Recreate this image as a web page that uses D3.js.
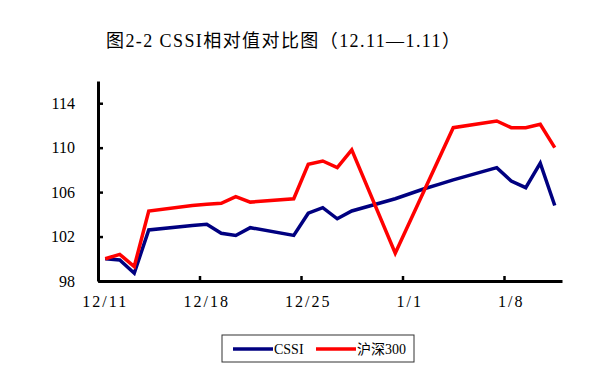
<!DOCTYPE html>
<html>
<head>
<meta charset="utf-8">
<script src="https://cdn.jsdelivr.net/npm/d3@7"></script>
<style>
  body { margin: 0; background: #fff; }
  text { font-family: "Liberation Serif", "Noto Sans CJK SC", serif; fill: #000; }
</style>
</head>
<body>
<script>
// trading days, 2018-12-11 .. 2019-01-11
var dates = ["2018-12-11", "2018-12-12", "2018-12-13", "2018-12-14", "2018-12-17",
  "2018-12-18", "2018-12-19", "2018-12-20", "2018-12-21", "2018-12-24",
  "2018-12-25", "2018-12-26", "2018-12-27", "2018-12-28", "2018-12-31",
  "2019-01-02", "2019-01-03", "2019-01-04", "2019-01-07", "2019-01-08",
  "2019-01-09", "2019-01-10", "2019-01-11"];
var cssi = [100.0, 99.9, 98.7, 102.6, 103.0, 103.1, 102.3, 102.1, 102.8, 102.1,
  104.1, 104.6, 103.6, 104.3, 105.4, 106.3, 106.7, 107.1, 108.2, 107.0,
  106.4, 108.6, 104.8];
var hs300 = [100.0, 100.4, 99.3, 104.3, 104.8, 104.9, 105.0, 105.6, 105.1, 105.4,
  108.5, 108.8, 108.2, 109.8, 100.5, null, null, 111.8, 112.4, 111.8,
  111.8, 112.1, 110.0];
var seriesNames = ["CSSI", "沪深300"];
var colors = ["#000080", "#ff0000"];
var yTicks = [98, 102, 106, 110, 114];
var xTickDates = ["2018-12-11", "2018-12-18", "2018-12-25", "2019-01-01", "2019-01-08"];
var xTickLabels = ["12/11", "12/18", "12/25", "1/1", "1/8"];

var width = 602, height = 368;
var mLeft = 98, mRight = 562, mTop = 81, mBottom = 281;

var parse = d3.timeParse("%Y-%m-%d");

var x = d3.scaleTime()
  .domain([parse("2018-12-11"), parse("2019-01-12")])
  .range([mLeft, mRight]);
var y = d3.scaleLinear()
  .domain([98, 116])
  .range([mBottom, mTop]);

var svg = d3.select("body").append("svg")
  .attr("width", width)
  .attr("height", height);

svg.append("text")
  .attr("x", 106)
  .attr("y", 47)
  .attr("textLength", 354)
  .attr("lengthAdjust", "spacing")
  .style("font-size", "18px")
  .text("图2-2 CSSI相对值对比图（12.11—1.11）");

// lines (points sit at the middle of each day)
var series = [cssi, hs300].map(function(vals, i) {
  return {
    name: seriesNames[i],
    color: colors[i],
    values: dates.map(function(d, j) { return { date: parse(d), v: vals[j] }; })
      .filter(function(p) { return p.v !== null; })
  };
});

var line = d3.line()
  .x(function(d) { return x(d3.timeHour.offset(d.date, 12)); })
  .y(function(d) { return y(d.v); });

// y axis, ticks pointing inside
var yAxis = svg.append("g")
  .attr("transform", "translate(" + mLeft + ",0)")
  .call(d3.axisLeft(y).tickValues(yTicks).tickSize(-5).tickSizeOuter(0).tickPadding(23));
yAxis.selectAll("text").style("font-size", "16px");

// x axis: tick marks at start of each week
var xAxis = svg.append("g")
  .attr("transform", "translate(0," + mBottom + ")")
  .call(d3.axisBottom(x)
    .tickValues(xTickDates.map(parse))
    .tickSize(-5).tickSizeOuter(0)
    .tickFormat(""));

svg.selectAll(".domain").attr("stroke", "#000").attr("stroke-width", 3);
svg.selectAll(".tick line").attr("stroke", "#000").attr("stroke-width", 2.5);

// x labels centred on their day
svg.selectAll(".xlabel")
  .data(xTickDates)
  .enter().append("text")
  .attr("class", "xlabel")
  .attr("x", function(d) { return x(d3.timeHour.offset(parse(d), 12)); })
  .attr("y", 307)
  .attr("text-anchor", "middle")
  .style("font-size", "16px")
  .style("letter-spacing", "2px")
  .text(function(d, i) { return xTickLabels[i]; });

svg.selectAll(".series")
  .data(series)
  .enter().append("path")
  .attr("class", "series")
  .attr("d", function(d) { return line(d.values); })
  .attr("fill", "none")
  .attr("stroke", function(d) { return d.color; })
  .attr("stroke-width", 3.5)
  .attr("stroke-linejoin", "miter");

// legend
var legend = svg.append("g");
legend.append("rect")
  .attr("x", 222).attr("y", 335)
  .attr("width", 192).attr("height", 27)
  .attr("fill", "#fff")
  .attr("stroke", "#333")
  .attr("stroke-width", 1);

var lx = [233, 316];
series.forEach(function(s, i) {
  legend.append("line")
    .attr("x1", lx[i]).attr("x2", lx[i] + 40)
    .attr("y1", 349).attr("y2", 349)
    .attr("stroke", s.color)
    .attr("stroke-width", 3.5);
  legend.append("text")
    .attr("x", lx[i] + 41)
    .attr("y", 354)
    .style("font-size", "14px")
    .text(s.name);
});
</script>
</body>
</html>
